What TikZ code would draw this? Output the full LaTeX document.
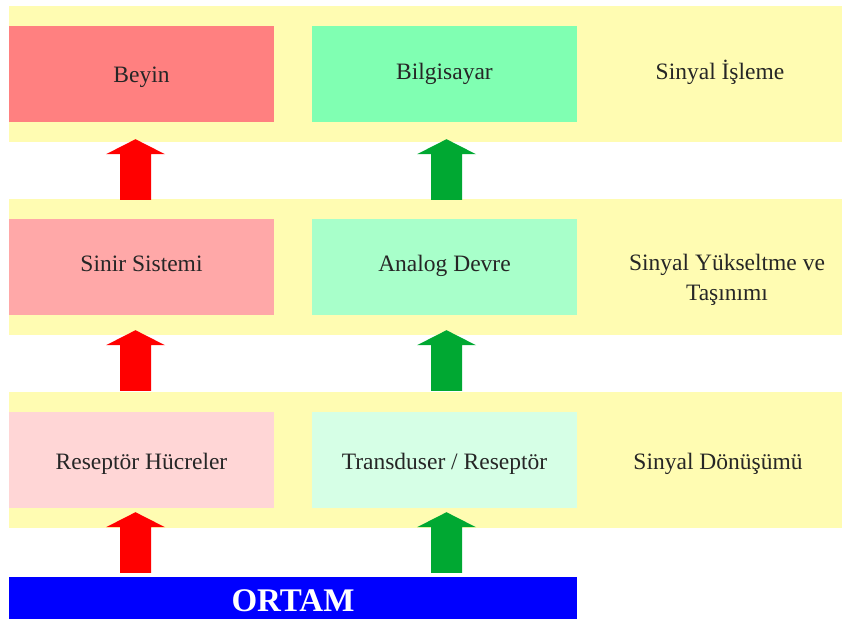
\documentclass[tikz,border=0pt]{standalone}
\usepackage{fontspec}
\setmainfont{Liberation Serif}
\usepackage{tikz}
\usetikzlibrary{calc}

\definecolor{bandyellow}{HTML}{FFFCB2}
\definecolor{brainred}{HTML}{FF8080}
\definecolor{nervered}{HTML}{FFA8A8}
\definecolor{cellred}{HTML}{FFD6D6}
\definecolor{pcgreen}{HTML}{80FFB2}
\definecolor{circgreen}{HTML}{A8FFCA}
\definecolor{sensgreen}{HTML}{D6FFE6}
\definecolor{arrowgreen}{HTML}{00A832}

% block arrow pointing up: colour, foot, tip
\newcommand{\uparr}[3]{%
  \fill[#1] let \p1=(#2), \p2=(#3) in
    (\x1-15.5,\y1) -- (\x1+15.5,\y1) -- (\x1+15.5,\y2-15) -- (\x1+29.5,\y2-15)
    -- (\x2,\y2) -- (\x1-29.5,\y2-15) -- (\x1-15.5,\y2-15) -- cycle;
}

\begin{document}
\begin{tikzpicture}[
  x=1pt, y=-1pt,
  every node/.style={font=\fontsize{23.5}{30}\selectfont, text=black!85},
  band/.style={fill=bandyellow, minimum width=833pt, minimum height=136pt, inner sep=0pt},
  box/.style={minimum width=265pt, minimum height=96pt, inner sep=0pt,
              text height=20pt, text depth=4pt},
]
\useasboundingbox (0,0) rectangle (842,619);

% Yellow bands
\node[band] (band1) at (425.5,74) {};
\node[band] (band2) at (425.5,267) {};
\node[band] (band3) at (425.5,460) {};

% Left column (biological)
\node[box, fill=brainred]  (beyin) at (141.5,74)  {Beyin};
\node[box, fill=nervered, text height=16pt, text depth=8pt] (sinir) at (141.5,267) {Sinir Sistemi};
\node[box, fill=cellred, text height=21pt, text depth=3pt]  (resep) at (141.5,460) {Reseptör Hücreler};

% Middle column (technical)
\node[box, fill=pcgreen, text height=17pt, text depth=7pt]   (bilg)  at (444.5,74)  {Bilgisayar};
\node[box, fill=circgreen, text height=16pt, text depth=8pt] (analog) at (444.5,267) {Analog Devre};
\node[box, fill=sensgreen, text height=21pt, text depth=3pt] (trans) at (444.5,460) {Transduser / Reseptör};

% Environment
\node[fill=blue, minimum width=568pt, minimum height=42pt, inner sep=0pt,
      text height=30pt, text depth=4pt,
      text=white, font=\fontsize{33}{36}\selectfont\bfseries] (ortam) at (293,598) {ORTAM};

% Stage labels
\node (lab1) at (720,72)  {Sinyal İşleme};
\node[align=center] (lab2) at (727,280) {Sinyal Yükseltme ve\\Taşınımı};
\node (lab3) at (718,464) {Sinyal Dönüşümü};

% Arrows
\uparr{red}{$(ortam.north)+(-157.5,-4)$}{$(resep.south)+(-6,4)$}
\uparr{red}{$(resep.north)+(-6,-21)$}{$(sinir.south)+(-6,15)$}
\uparr{red}{$(sinir.north)+(-6,-19)$}{$(beyin.south)+(-6,17)$}
\uparr{arrowgreen}{$(ortam.north)+(153.5,-4)$}{$(trans.south)+(2,4)$}
\uparr{arrowgreen}{$(trans.north)+(2,-21)$}{$(analog.south)+(2,15)$}
\uparr{arrowgreen}{$(analog.north)+(2,-19)$}{$(bilg.south)+(2,17)$}
\end{tikzpicture}
\end{document}
